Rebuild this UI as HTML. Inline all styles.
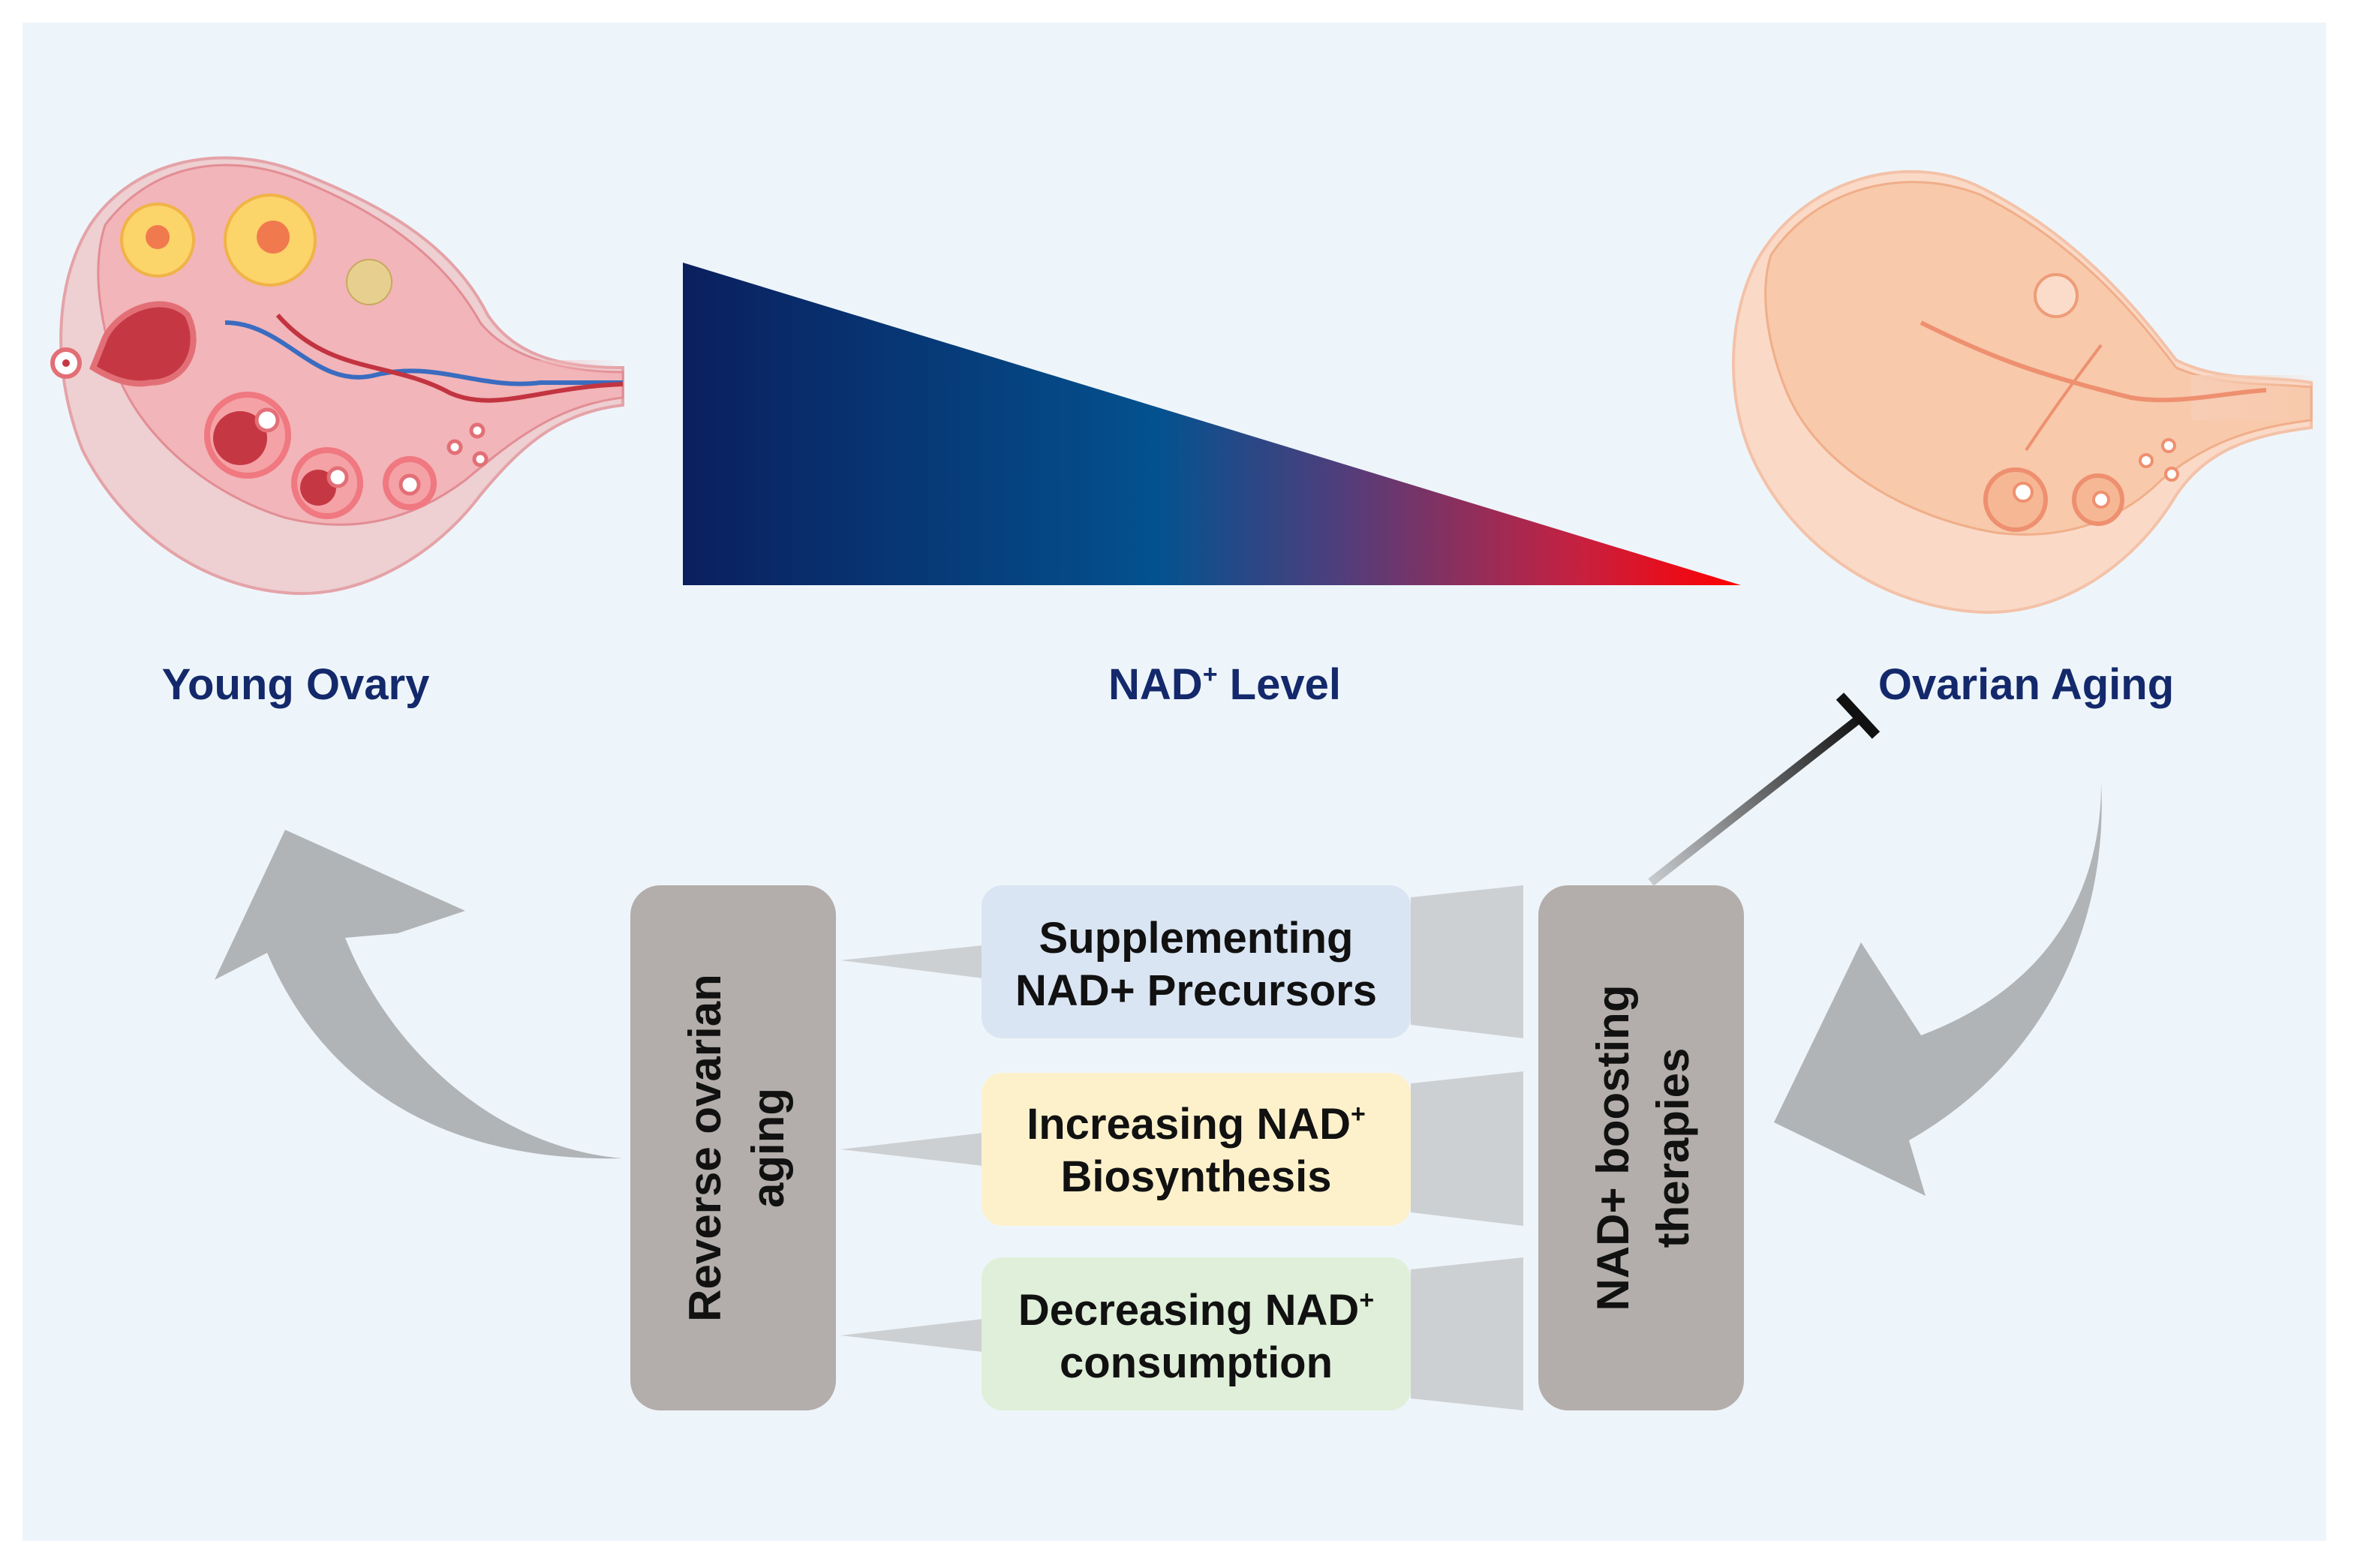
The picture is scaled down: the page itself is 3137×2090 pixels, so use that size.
<!DOCTYPE html>
<html><head><meta charset="utf-8"><style>
html,body{margin:0;padding:0;background:#fff;}
svg{display:block}
text{font-family:"Liberation Sans",Arial,sans-serif;font-weight:bold}
</style></head><body>
<svg width="3137" height="2090" viewBox="0 0 1568.5 1045" xmlns="http://www.w3.org/2000/svg">
<defs>
<linearGradient id="tri" x1="455" y1="0" x2="1160" y2="0" gradientUnits="userSpaceOnUse">
<stop offset="0" stop-color="#0b1f5e"/><stop offset="0.45" stop-color="#03528f"/><stop offset="0.62" stop-color="#4f3e7c"/><stop offset="0.85" stop-color="#c8203f"/><stop offset="1" stop-color="#ff0000"/>
</linearGradient>
<linearGradient id="inh" x1="1100" y1="588" x2="1240" y2="478" gradientUnits="userSpaceOnUse">
<stop offset="0" stop-color="#c8cbce"/><stop offset="1" stop-color="#111"/>
</linearGradient>
<linearGradient id="tail1" x1="330" y1="0" x2="415" y2="0" gradientUnits="userSpaceOnUse">
<stop offset="0" stop-color="#f2b5b8"/><stop offset="1" stop-color="#f2b5b8" stop-opacity="0"/>
</linearGradient>
<linearGradient id="tail2" x1="1460" y1="0" x2="1545" y2="0" gradientUnits="userSpaceOnUse">
<stop offset="0" stop-color="#f7cdb5"/><stop offset="1" stop-color="#f7cdb5" stop-opacity="0"/>
</linearGradient>
</defs>
<rect x="0" y="0" width="1568.5" height="1045" fill="#fff"/>
<rect x="15" y="15" width="1535" height="1012" fill="#eef5fa"/>

<!-- Young ovary -->
<path d="M60,150 C90,105 150,95 200,115 C250,135 300,160 325,210 C345,240 380,245 415,245 L415,270 C370,275 345,300 320,330 C290,370 240,400 190,395 C130,390 80,350 55,300 C35,250 35,190 60,150Z" fill="#eecfd2" stroke="#e4a3a8" stroke-width="2"/>
<path d="M70,150 C100,110 150,100 200,120 C250,140 295,170 320,215 C340,240 380,248 415,248 L415,265 C370,270 340,295 310,320 C270,350 230,355 190,345 C140,330 90,290 75,240 C65,205 62,175 70,150Z" fill="#f2b5b9" stroke="#e28d94" stroke-width="1.5"/>
<rect x="330" y="240" width="85" height="28" fill="url(#tail1)"/>
<g fill="#fbd46a" stroke="#f0b347" stroke-width="2">
<circle cx="105" cy="160" r="24"/><circle cx="180" cy="160" r="30"/>
</g>
<circle cx="105" cy="158" r="8" fill="#f07a4e"/><circle cx="182" cy="158" r="11" fill="#f07a4e"/>
<circle cx="246" cy="188" r="15" fill="#e7d08f" stroke="#c9a860"/>
<path d="M70,225 C80,205 110,195 125,210 C135,230 125,255 100,255 C85,258 70,250 62,245Z" fill="#c53843" stroke="#e36f76" stroke-width="4"/>
<circle cx="44" cy="242" r="9" fill="#fff" stroke="#e36f76" stroke-width="3"/><circle cx="44" cy="242" r="2.5" fill="#c53843"/>
<path d="M150,215 C190,215 210,260 250,250 C290,240 320,260 360,255 L415,255" fill="none" stroke="#3a6cc0" stroke-width="3"/>
<path d="M185,210 C220,250 260,240 300,262 C330,275 360,258 415,256" fill="none" stroke="#c23440" stroke-width="3"/>
<g stroke="#f07880" stroke-width="4" fill="#f4a2a6">
<circle cx="165" cy="290" r="27"/><circle cx="218" cy="322" r="22"/><circle cx="273" cy="322" r="16"/>
</g>
<circle cx="160" cy="292" r="18" fill="#c53843"/><circle cx="212" cy="325" r="12" fill="#c53843"/>
<g fill="#fff" stroke="#e36f76" stroke-width="2.5">
<circle cx="178" cy="280" r="7"/><circle cx="225" cy="318" r="6"/><circle cx="273" cy="323" r="6"/>
<circle cx="303" cy="298" r="4"/><circle cx="318" cy="287" r="4"/><circle cx="320" cy="306" r="4"/>
</g>

<!-- Old ovary -->
<path d="M1170,175 C1200,120 1270,100 1320,125 C1380,155 1420,200 1450,240 C1480,255 1510,250 1540,255 L1540,285 C1500,290 1470,300 1450,330 C1420,380 1370,410 1320,408 C1260,405 1200,370 1170,310 C1150,270 1150,215 1170,175Z" fill="#fad9c7" stroke="#f3c2a8" stroke-width="2"/>
<path d="M1180,170 C1210,125 1270,110 1320,130 C1380,160 1420,205 1450,245 C1480,258 1510,255 1540,258 L1540,280 C1500,285 1470,295 1440,320 C1410,350 1370,360 1330,355 C1270,345 1210,310 1190,260 C1178,230 1172,195 1180,170Z" fill="#f8c9ab" stroke="#f0ae89" stroke-width="1.5"/>
<rect x="1460" y="250" width="85" height="30" fill="url(#tail2)"/>
<circle cx="1370" cy="197" r="14" fill="#fbdccb" stroke="#ee9c79" stroke-width="2"/>
<path d="M1280,215 C1330,240 1360,250 1420,265 C1450,270 1480,262 1510,260" fill="none" stroke="#ee9070" stroke-width="3"/>
<path d="M1350,300 C1370,270 1385,250 1400,230" fill="none" stroke="#ee9070" stroke-width="2"/>
<g stroke="#ee9070" stroke-width="3" fill="#f6b894">
<circle cx="1343" cy="333" r="20"/><circle cx="1398" cy="333" r="16"/>
</g>
<g fill="#fff" stroke="#ee9070" stroke-width="2">
<circle cx="1348" cy="328" r="6"/><circle cx="1400" cy="333" r="5"/>
<circle cx="1430" cy="307" r="4"/><circle cx="1445" cy="297" r="4"/><circle cx="1447" cy="316" r="4"/>
</g>

<!-- Triangle -->
<polygon points="455,175 455,390 1160,390" fill="url(#tri)"/>

<!-- Labels -->
<text x="197" y="466" font-size="29" fill="#14296b" text-anchor="middle">Young Ovary</text>
<text x="816" y="466" font-size="29" fill="#14296b" text-anchor="middle">NAD<tspan font-size="17" dy="-11">+</tspan><tspan dy="11"> Level</tspan></text>
<text x="1350" y="466" font-size="29" fill="#14296b" text-anchor="middle">Ovarian Aging</text>

<!-- Inhibitor -->
<line x1="1100" y1="588" x2="1240" y2="478" stroke="url(#inh)" stroke-width="6"/>
<line x1="1226" y1="464" x2="1250" y2="490" stroke="#111" stroke-width="7"/>

<!-- Curved arrows -->
<path d="M415,772 C330,765 260,700 230,625 L265,622 L310,607 L190,553 L143,653 L178,635 C210,710 280,775 415,772Z" fill="#b1b4b7"/>
<path d="M1400,522 C1400,600 1360,660 1280,690 L1240,628 L1182,748 L1283,797 L1272,760 C1360,710 1405,620 1400,522Z" fill="#b1b4b7"/>

<!-- wedges -->
<g fill="#cdd0d3">
<polygon points="655,630 655,652 560,640"/>
<polygon points="655,755 655,777 560,766"/>
<polygon points="655,879 655,901 560,890"/>
<polygon points="940,598 1015,590 1015,692 940,683"/>
<polygon points="940,722 1015,714 1015,817 940,808"/>
<polygon points="940,846 1015,838 1015,940 940,932"/>
</g>

<!-- Gray boxes -->
<rect x="420" y="590" width="137" height="350" rx="20" fill="#b3aeab"/>
<rect x="1025" y="590" width="137" height="350" rx="20" fill="#b3aeab"/>
<text transform="translate(480,765) rotate(-90)" font-size="30" fill="#111" text-anchor="middle">Reverse ovarian</text>
<text transform="translate(522,765) rotate(-90)" font-size="30" fill="#111" text-anchor="middle">aging</text>
<text transform="translate(1085,765) rotate(-90)" font-size="30" fill="#111" text-anchor="middle">NAD+ boosting</text>
<text transform="translate(1125,765) rotate(-90)" font-size="30" fill="#111" text-anchor="middle">therapies</text>

<!-- Colored boxes -->
<rect x="654" y="590" width="286" height="102" rx="14" fill="#dae5f3"/>
<rect x="654" y="715" width="286" height="102" rx="14" fill="#fdf1cb"/>
<rect x="654" y="838" width="286" height="102" rx="14" fill="#dfefd9"/>
<g font-size="29" fill="#111" text-anchor="middle">
<text x="797" y="635">Supplementing</text>
<text x="797" y="670">NAD+ Precursors</text>
<text x="797" y="759">Increasing NAD<tspan font-size="17" dy="-11">+</tspan></text>
<text x="797" y="794">Biosynthesis</text>
<text x="797" y="883">Decreasing NAD<tspan font-size="17" dy="-11">+</tspan></text>
<text x="797" y="918">consumption</text>
</g>
</svg>
</body></html>
